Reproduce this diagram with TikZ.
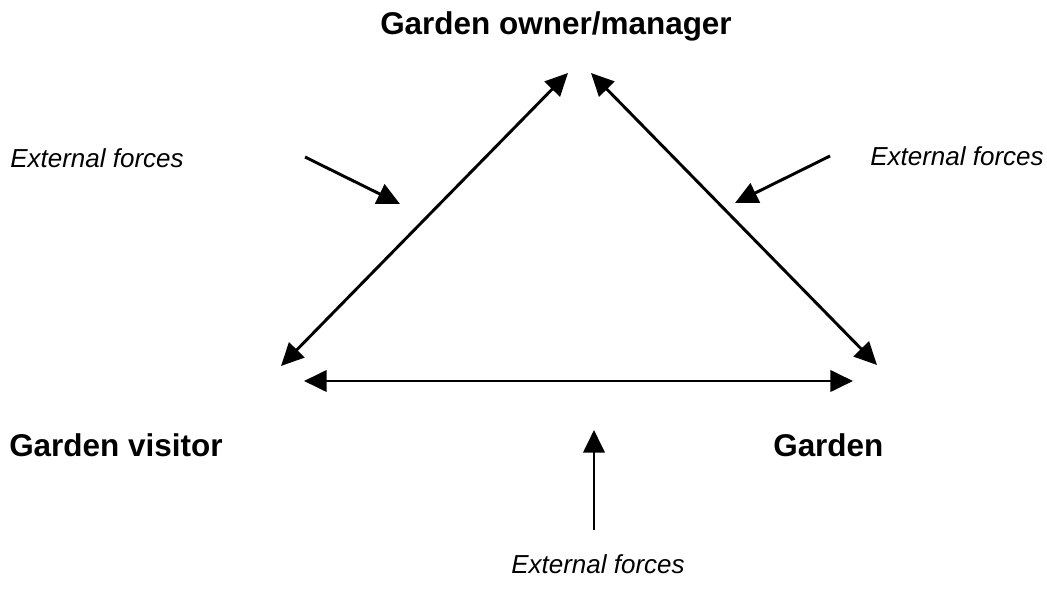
\documentclass[tikz,border=0pt]{standalone}
\usepackage{fontspec}
\setmainfont{Liberation Sans}
\usetikzlibrary{arrows.meta}
\begin{document}
\begin{tikzpicture}[x=0.75pt,y=-0.75pt,
  party/.style={inner sep=0pt,font=\fontsize{23.6}{26}\selectfont\bfseries},
  force/.style={inner sep=0pt,font=\fontsize{19.5}{22}\selectfont\itshape},
  tip/.style={Triangle[length=17pt,width=16pt]},
  link/.style={line width=2.2pt,{Triangle[length=17pt,width=16pt]}-{Triangle[length=17pt,width=16pt]}},
  push/.style={line width=2.2pt,-{Triangle[length=17pt,width=16pt]}}]
\useasboundingbox (0,0) rectangle (1047,602);

% the three parties
\node[party,anchor=base] (owner) at (556,35) {Garden owner/manager};
\node[party,anchor=base west] (visitor) at (9,457) {Garden visitor};
\node[party,anchor=base west] (garden) at (773,457) {Garden};

% external forces
\node[force,anchor=base west] (efl) at (10,168) {External forces};
\node[force,anchor=base west] (efr) at (870,166) {External forces};
\node[force,anchor=base] (efb) at (598,573) {External forces};

% ends of the relationship arrows
\coordinate (ownerL) at (568,73);
\coordinate (ownerR) at (591,73);
\coordinate (visitorT) at (281,366);
\coordinate (visitorR) at (304,381);
\coordinate (gardenT) at (877,365);
\coordinate (gardenL) at (853,381);

\draw[link] (visitorT) -- (ownerL);
\draw[link] (ownerR) -- (gardenT);
\draw[link] (visitorR) -- (gardenL);

% pressure from outside
\coordinate (fl0) at (305,157);
\coordinate (fl1) at (400,204);
\coordinate (fr0) at (830,156);
\coordinate (fr1) at (735,203);
\coordinate (fb0) at (594,530);
\coordinate (fb1) at (594,430);

\draw[push] (fl0) -- (fl1);
\draw[push] (fr0) -- (fr1);
\draw[push] (fb0) -- (fb1);
\end{tikzpicture}
\end{document}
